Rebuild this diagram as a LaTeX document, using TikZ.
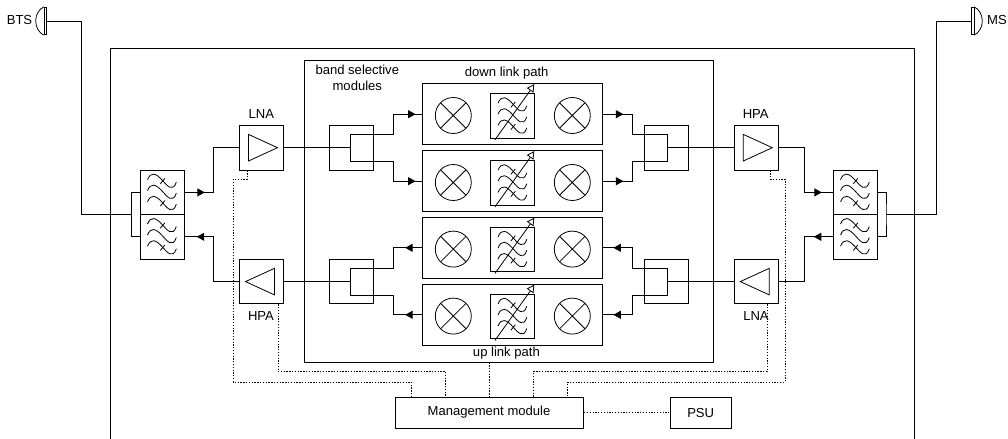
\documentclass[tikz,border=0pt]{standalone}
\usepackage{fontspec}
\setmainfont{Liberation Sans}
\usetikzlibrary{arrows.meta,decorations.markings,calc}
\newcommand{\filterwaves}[1]{%
 \begin{scope}[shift={(#1.north west)}]
  \foreach \c/\t in {11.2/1,22.2/0,33.4/1}{
   \draw[wave] (7.7,\c-1.2) .. controls (11,\c-9.5) and (16,\c-8) .. (23,\c) .. controls (27,\c+4.5) and (33,\c+12) .. (36.5,\c+1.2);
   \ifnum\t=1 \draw[wave] (20.5,\c+3) -- (25,\c-2.5);\fi
  }
 \end{scope}}
\newcommand{\vararrow}[1]{%
 \begin{scope}[shift={(#1.north west)}]
  \draw[wave] (4.6,46.6) -- (40.2,-3.2);
  \draw[wave,fill=white] (43.5,-8.5) -- (42.8,-1.2) -- (37.2,-5.2) -- cycle;
 \end{scope}}
\newcommand{\ampright}[1]{\draw[wave] ([shift={(-13,-13.3)}]#1.center) -- ([shift={(16,0)}]#1.center) -- ([shift={(-13,13.3)}]#1.center) -- cycle;}
\newcommand{\ampleft}[1]{\draw[wave] ([shift={(13,-13.3)}]#1.center) -- ([shift={(-16,0)}]#1.center) -- ([shift={(13,13.3)}]#1.center) -- cycle;}
\newcommand{\dome}[3]{\draw[wave] (#1.north #2) .. controls +(#3*4,2) and +(0,-7) .. ($(#1.north #2)!.5!(#1.south #2)+(#3*8,0)$) .. controls +(0,7) and +(#3*4,-2) .. (#1.south #2);}
\tikzset{
 x=0.75pt,y=-0.75pt,
 every path/.append style={line width=0.7pt},
 wave/.style={line width=0.6pt},
 boxn/.style={draw,inner sep=0,minimum width=33pt,minimum height=33.4pt},
 fbox/.style={boxn},
 module/.style={draw,inner sep=0,minimum width=135.2pt,minimum height=45.75pt},
 mixer/.style={draw,circle,inner sep=0,minimum size=27pt,line width=0.6pt,
   path picture={\draw[line width=0.6pt] (path picture bounding box.north west)--(path picture bounding box.south east)
   (path picture bounding box.north east)--(path picture bounding box.south west);}},
 lab/.style={inner sep=0,align=center,font=\fontsize{9.8}{11.8}\selectfont},
 antenna/.style={draw,inner sep=0,minimum width=2pt,minimum height=20.5pt,line width=0.6pt},
 dotline/.style={line width=0.65pt,dash pattern=on 1pt off 1.1pt},
 fwdat/.style={postaction={decorate,decoration={markings,mark=at position #1 with {\arrow{Triangle[length=5.6pt,width=6pt]}}}}},
 revat/.style={postaction={decorate,decoration={markings,mark=at position #1 with {\arrowreversed{Triangle[length=5.6pt,width=6pt]}}}}},
}
\begin{document}
\begin{tikzpicture}
\useasboundingbox (0,0) rectangle (1008,439);
% frames
\coordinate (fa) at (110,439); \coordinate (fb) at (914,439);
\draw (fa) -- (110,48) -- (914,48) -- (fb);
\node[draw,inner sep=0,minimum width=306.4pt,minimum height=226.5pt] (inner) at (508.8,211) {};
% antennas
\node[antenna] (abts) at (45.4,21) {};
\node[antenna] (ams) at (972.6,21) {};
\dome{abts}{west}{-1}
\dome{ams}{east}{1}
\node[lab] (tbts) at (19.5,20) {BTS};
\node[lab] (tms) at (997,20) {MS};
% filters
\node[fbox] (f1) at (162.3,192.4) {};
\node[fbox] (f2) at (162.3,236.8) {};
\node[fbox] (f3) at (855.3,192.4) {};
\node[fbox] (f4) at (855.3,236.8) {};
\filterwaves{f1}\filterwaves{f2}\filterwaves{f3}\filterwaves{f4}
% amplifiers
\node[boxn] (lna1) at (261.5,147.7) {};
\node[boxn] (hpa1) at (261.5,281.6) {};
\node[boxn] (hpa2) at (756.3,147.7) {};
\node[boxn] (lna2) at (756.3,281.6) {};
\ampright{lna1}\ampleft{hpa1}\ampright{hpa2}\ampleft{lna2}
\node[lab] (tlna1) at (261.3,114) {LNA};
\node[lab] (thpa2) at (755.7,114) {HPA};
\node[lab] (thpa1) at (261,316) {HPA};
\node[lab] (tlna2) at (756,316) {LNA};
% splitters
\node[boxn] (s1) at (351.5,147.7) {};
\node[boxn] (s2) at (666,147.7) {};
\node[boxn] (s3) at (351.5,281.6) {};
\node[boxn] (s4) at (666,281.6) {};
% modules
\foreach \n/\y in {m1/114.2,m2/181.2,m3/247.8,m4/314.8}{
 \node[module] (\n) at (512.8,\y) {};
 \node[mixer] (\n a) at (453.3,\y+1.3) {};
 \node[mixer] (\n c) at (572.3,\y+1.3) {};
 \node[boxn] (\n b) at (512.8,\y+1.8) {};
 \filterwaves{\n b}\vararrow{\n b}
}
% labels
\node[lab] (tband) at (357.3,77.8) {band selective\\modules};
\node[lab] (tdown) at (506.7,72.7) {down link path};
\node[lab] (tup) at (506.4,352.7) {up link path};
% management
\node[draw,inner sep=0,minimum width=141.5pt,minimum height=23.25pt] (mgmt) at (489.3,412.5) {};
\node[lab] (tmgmt) at (489,411.7) {Management module};
\node[draw,inner sep=0,minimum width=45.5pt,minimum height=23.25pt] (psu) at (701,412.5) {};
\node[lab] (tpsu) at (700.7,413) {PSU};
% antenna feeds
\coordinate (bl) at (131.7,214.6); \coordinate (br) at (886,214.6);
\draw (abts.east) -- (81,21) -- (81,214.6) -- (bl);
\draw (ams.west) -- (936.3,21) -- (936.3,214.6) -- (br);
\draw (f1.west) -| (bl) |- (f2.west);
\draw (f3.east) -| (br) |- (f4.east);
% filter to amplifiers
\draw[fwdat=15pt] (f1.east) -- (213,192.4) |- (lna1.west);
\draw[revat=9pt] (f2.east) -- (213,236.8) |- (hpa1.west);
\draw[revat=8.25pt] (f3.west) -- (804.7,192.4) |- (hpa2.east);
\draw[fwdat=14.25pt] (f4.west) -- (804.7,236.8) |- (lna2.east);
% splitters inner brackets
\coordinate (b1) at (350.5,147.7); \coordinate (b3) at (350.5,281.6);
\coordinate (b2) at (667.7,147.7); \coordinate (b4) at (667.7,281.6);
\draw (lna1.east) -- (b1);
\draw (hpa1.east) -- (b3);
\draw (hpa2.west) -- (b2);
\draw (lna2.west) -- (b4);
% left branching
\draw[fwdat=-5pt] (b1) -- (350.5,134.3) -- (393.7,134.3) |- (m1.west);
\draw[fwdat=-5pt] (b1) -- (350.5,161.2) -- (393.7,161.2) |- (m2.west);
\draw[fwdat=12.75pt] (m3.west) -- (393.7,247.8) |- (350.5,268.3) -- (b3);
\draw[fwdat=12.75pt] (m4.west) -- (393.7,314.8) |- (350.5,295) -- (b3);
% right branching
\draw[fwdat=15pt] (m1.east) -- (632,114.2) |- (667.7,134.3) -- (b2);
\draw[fwdat=15pt] (m2.east) -- (632,181.2) |- (667.7,161.2) -- (b2);
\draw[revat=7.5pt] (m3.east) -- (632,247.8) |- (667.7,268.3) -- (b4);
\draw[revat=7.5pt] (m4.east) -- (632,314.8) |- (667.7,295) -- (b4);
% control
\draw[dotline] (lna1.south -| 247,170) -- (247,179.3) -- (233.3,179.3) -- (233.3,382) -- (411.4,382) -- (mgmt.north -| 411.4,397);
\draw[dotline] (hpa1.south -| 278.2,304) -- (278.2,371.7) -- (445.7,371.7) -- (mgmt.north -| 445.7,397);
\draw[dotline] (inner.south -| mgmt.north) -- (mgmt.north);
\draw[dotline] (lna2.south -| 767,304) -- (767,371.7) -- (533.2,371.7) -- (mgmt.north -| 533.2,397);
\draw[dotline] (hpa2.south -| 770.7,170) -- (770.7,179.3) -- (785,179.3) -- (785,382) -- (567.5,382) -- (mgmt.north -| 567.5,397);
\draw[dotline] (mgmt.east) -- (psu.west);
\end{tikzpicture}
\end{document}
